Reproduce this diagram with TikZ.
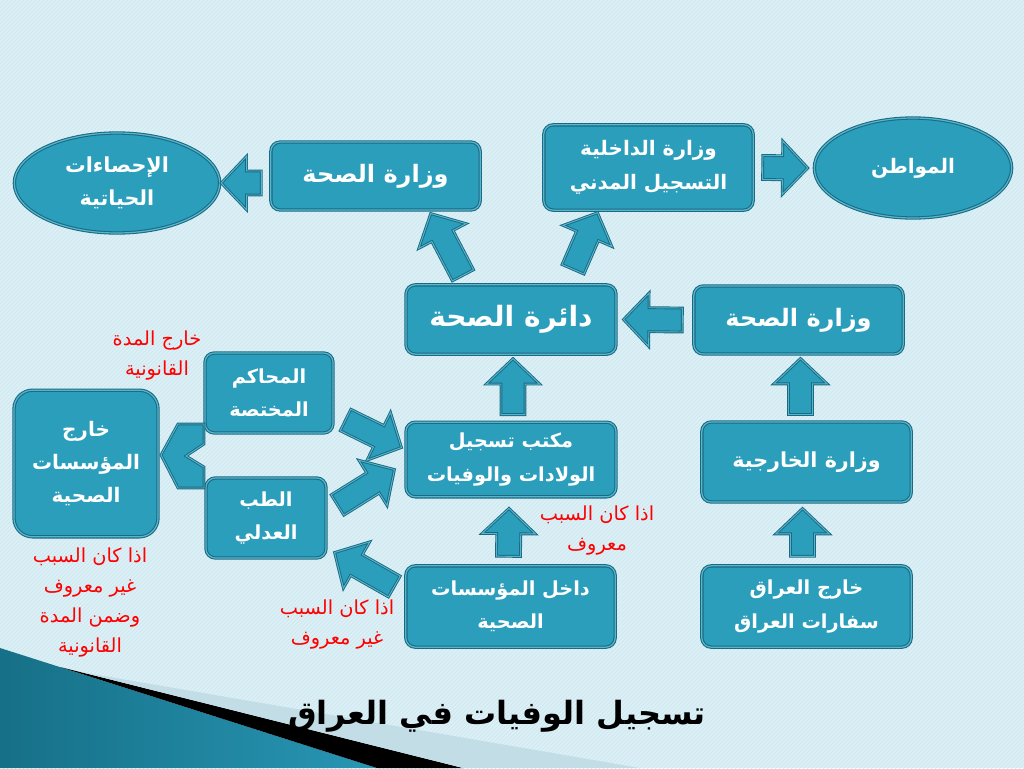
\documentclass[tikz,border=0pt]{standalone}
\usepackage{fontspec}
\usetikzlibrary{calc,patterns,shapes.geometric}
\newfontfamily\arabicfont[Script=Arabic]{DejaVu Sans}
\TeXXeTstate=1
\newcommand\ar[1]{\beginR #1\endR}
\definecolor{paper}{RGB}{220,240,246}
\definecolor{stripe}{RGB}{204,229,237}
\definecolor{boxfill}{RGB}{43,158,188}
\definecolor{boxedge}{RGB}{27,106,130}
\definecolor{boxline}{RGB}{86,182,206}
\definecolor{notered}{RGB}{255,0,0}
\definecolor{decodark}{RGB}{22,112,135}
\definecolor{decolight}{RGB}{92,184,212}
\definecolor{decomid}{RGB}{40,150,180}
\definecolor{palepanel}{RGB}{194,221,230}
% fat block arrow from #1 (tail) to #2 (tip)
\newcommand\fatarrow[2]{%
	\coordinate (fa-a) at (#1);
	\coordinate (fa-b) at (#2);
	\coordinate (fa-h) at ($(fa-b)!19pt!(fa-a)$);
	\draw[barrow] ($(fa-a)!9pt!90:(fa-b)$) -- ($(fa-h)!9pt!90:(fa-b)$)
		-- ($(fa-h)!20pt!90:(fa-b)$) -- (fa-b) -- ($(fa-h)!20pt!-90:(fa-b)$)
		-- ($(fa-h)!9pt!-90:(fa-b)$) -- ($(fa-a)!9pt!-90:(fa-b)$) -- cycle;
}
\begin{document}
\begin{tikzpicture}[x=0.75pt,y=-0.75pt,
		box/.style={draw=boxedge, double=boxline, double distance=0.9pt, line width=0.8pt, fill=boxfill, rounded corners=7pt, text=white, align=center, inner sep=2pt, font=\arabicfont\bfseries\fontsize{14.5}{25}\selectfont},
		big/.style={font=\arabicfont\bfseries\fontsize{#1}{25}\selectfont},
		oval/.style={box, ellipse},
		barrow/.style={draw=boxedge, double=boxline, double distance=0.7pt, line width=0.7pt, fill=boxfill, line join=miter},
		note/.style={text=notered, align=center, font=\arabicfont\fontsize{14.5}{22.5}\selectfont}]
		\useasboundingbox (0,0) rectangle (1024,768);
		%% Background
		\fill[paper] (0,0) rectangle (1024,768);
		\fill[pattern=north east lines, pattern color=stripe] (0,0) rectangle (1024,768);
		\shade[left color=decodark, middle color=decolight, right color=decomid] (0,648) -- (377,768) -- (0,768) -- cycle;
		\fill[black] (60,667) -- (463,768) -- (377,768) -- cycle;
		\fill[palepanel] (81,672) -- (640,768) -- (463,768) -- cycle;
		%% Top row
		\node[oval, minimum width=154pt, minimum height=75pt, big=15.5] (ihs) at (117,183) {\ar{الإحصاءات}\\\ar{الحياتية}};
		\node[box, minimum width=157pt, minimum height=51pt, big=18] (vsA) at (375.5,176) {\ar{وزارة الصحة}};
		\node[box, minimum width=157pt, minimum height=64pt, big=15] (dakh) at (648.5,167.5) {\ar{وزارة الداخلية}\\\ar{التسجيل المدني}};
		\node[oval, minimum width=148pt, minimum height=75pt, big=15] (muw) at (913,168) {\ar{المواطن}};
		%% Middle
		\node[box, minimum width=157.5pt, minimum height=52pt, big=21] (daira) at (511,319.5) {\ar{دائرة الصحة}};
		\node[box, minimum width=157pt, minimum height=51pt, big=18] (vsB) at (798.5,320) {\ar{وزارة الصحة}};
		\node[box, minimum width=96pt, minimum height=60pt] (mahakim) at (269,393) {\ar{المحاكم}\\\ar{المختصة}};
		\node[box, minimum width=108pt, minimum height=110pt, rounded corners=14pt, big=15] (kharij) at (86,463.5) {\ar{خارج}\\\ar{المؤسسات}\\\ar{الصحية}};
		\node[box, minimum width=157.5pt, minimum height=56pt, big=14.5] (maktab) at (511,459.5) {\ar{مكتب تسجيل}\\\ar{الولادات والوفيات}};
		\node[box, minimum width=157pt, minimum height=60pt, big=15.5] (kharjiya) at (806.5,462) {\ar{وزارة الخارجية}};
		\node[box, minimum width=90pt, minimum height=60pt] (tibb) at (266,518) {\ar{الطب}\\\ar{العدلي}};
		%% Bottom row
		\node[box, minimum width=157pt, minimum height=61pt] (dakhil) at (510.5,606.5) {\ar{داخل المؤسسات}\\\ar{الصحية}};
		\node[box, minimum width=157pt, minimum height=61pt] (iraq) at (806.5,606.5) {\ar{خارج العراق}\\\ar{سفارات العراق}};
		%% Notes
		\node[note] (n1) at (157,356) {\ar{خارج المدة}\\\ar{القانونية}};
		\node[note] (n2) at (90,603) {\ar{اذا كان السبب}\\\ar{غير معروف}\\\ar{وضمن المدة}\\\ar{القانونية}};
		\node[note] (n3) at (337,625) {\ar{اذا كان السبب}\\\ar{غير معروف}};
		\node[note] (n4) at (597,531) {\ar{اذا كان السبب}\\\ar{معروف}};
		%% Arrows
		\fatarrow{$(vsA.west)+(-9,7)$}{$(ihs.east)+(1,0)$}
		\fatarrow{$(dakh.east)+(9,0)$}{$(muw.west)+(-6,0)$}
		\fatarrow{$(daira.north)+(-48,-9)$}{$(vsA.south east)+(-50,3)$}
		\fatarrow{$(daira.north)+(62,-15)$}{$(dakh.south)+(-51,2)$}
		\fatarrow{$(vsB.west)+(-11,0)$}{$(daira.east)+(7,0)$}
		\fatarrow{$(maktab.north)+(2,-7)$}{$(daira.south)+(2,4)$}
		\fatarrow{$(kharjiya.north)+(-6,-7)$}{$(vsB.south)+(2,4)$}
		\fatarrow{$(dakhil.north)+(-2,-9)$}{$(maktab.south)+(-2,11)$}
		\fatarrow{$(iraq.north)+(-4,-9)$}{$(kharjiya.south)+(-4,6)$}
		\fatarrow{$(mahakim.east)+(12,27)$}{$(maktab.west)+(-4,-12)$}
		\fatarrow{$(tibb.east)+(11,-13)$}{$(maktab.west)+(-11,10)$}
		\fatarrow{$(dakhil.west)+(-11,-20)$}{$(tibb.south east)+(8,-6)$}
		\draw[barrow] (161,455) -- (178,424) -- (204,424) -- (204,444) -- (186,456) -- (204,467) -- (204,488) -- (178,488) -- cycle;
		%% Title
		\node[font=\arabicfont\bfseries\fontsize{24}{30}\selectfont] (title) at (497,716) {\ar{تسجيل الوفيات في العراق}};
	\end{tikzpicture}
\end{document}
